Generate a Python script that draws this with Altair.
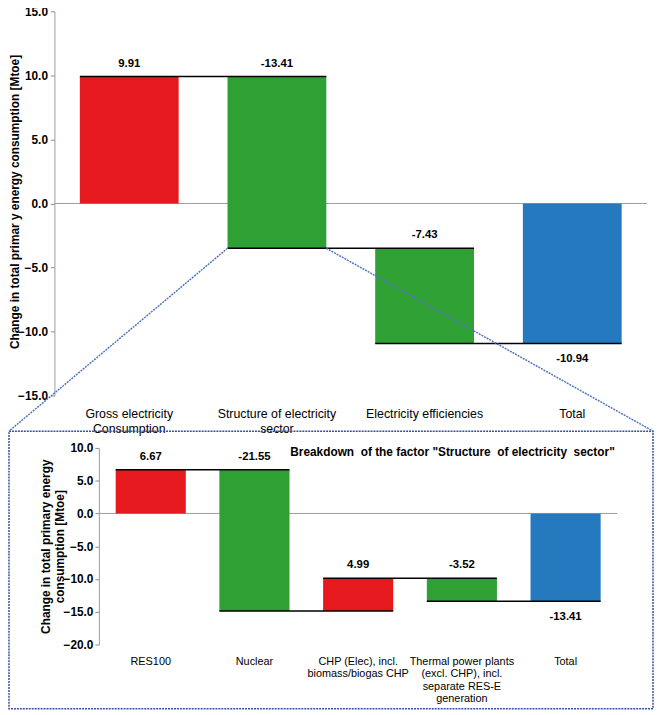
import altair as alt
import pandas as pd

# ---------------- data ----------------
top_categories = [
    "Gross electricity|Consumption",
    "Structure of electricity|sector",
    "Electricity efficiencies",
    "Total",
]
top_values = [9.91, -13.41, -7.43, -10.94]
top_is_total = [False, False, False, True]

bottom_categories = [
    "RES100",
    "Nuclear",
    "CHP (Elec), incl.|biomass/biogas CHP",
    "Thermal power plants|(excl. CHP), incl.|separate RES-E|generation",
    "Total",
]
bottom_values = [6.67, -21.55, 4.99, -3.52, -13.41]
bottom_is_total = [False, False, False, False, True]

top_y_ticks = [15, 10, 5, 0, -5, -10, -15]
bottom_y_ticks = [10, 5, 0, -5, -10, -15, -20]
top_y_domain = [-15, 15]
bottom_y_domain = [-20, 10]

top_y_title = "Change in total primar y energy consumption [Mtoe]"
bottom_y_title = "Change in total primary energy\nconsumption [Mtoe]"
breakdown_title = 'Breakdown \u00a0of the factor "Structure \u00a0of electricity \u00a0sector"'


def waterfall(cats, vals, totals):
    rows = []
    cum = 0.0
    for i, (c, v, t) in enumerate(zip(cats, vals, totals)):
        if t:
            start, end = 0.0, v
        else:
            start, end = cum, round(cum + v, 2)
            cum = end
        kind = "total" if t else ("pos" if v > 0 else "neg")
        rows.append(dict(cat=c, value=v, start=start, end=end, kind=kind,
                         top=max(start, end), bot=min(start, end),
                         label=f"{v:.2f}",
                         next=cats[i + 1] if i + 1 < len(cats) else None,
                         z=0.0))
    return pd.DataFrame(rows)


top_df = waterfall(top_categories, top_values, top_is_total)
bot_df = waterfall(bottom_categories, bottom_values, bottom_is_total)
one = pd.DataFrame({"z": [0.0]})

# ---------------- layout (page px -> svg px) ----------------
OFF = 8
W, H = 654, 707


def px(v):
    return v - OFF


FONT = "Liberation Sans"
RED, GREEN, BLUE = "#E6191F", "#2EA034", "#2479BF"
color_scale = alt.Scale(domain=["pos", "neg", "total"], range=[RED, GREEN, BLUE])

# ---------------- top chart ----------------
top_x = alt.Scale(domain=top_categories, range=[px(56), px(654)],
                  paddingInner=0.331, paddingOuter=0.1655)
top_y = alt.Scale(domain=top_y_domain, range=[px(396), px(7)], nice=False, zero=False)
top_x_axis = alt.Axis(orient="bottom", offset=px(396) - H, domain=False, ticks=False,
                      grid=False, title=None, labelExpr="split(datum.label, '|')",
                      labelFont=FONT, labelFontSize=12.5, labelColor="black",
                      labelPadding=12, labelLineHeight=15, labelAngle=0,
                      labelLimit=300, labelOverlap=False)
top_y_axis = alt.Axis(orient="left", offset=-px(55), values=top_y_ticks, format=".1f",
                      grid=False, title=None, labelFont=FONT, labelFontSize=12,
                      labelFontWeight="bold", labelColor="black", tickSize=4,
                      tickColor="#8c8c8c", domainColor="#9a9a9a", labelPadding=3)


def tx(field="cat:N", **kw):
    return alt.X(field, scale=top_x, axis=top_x_axis, **kw)


def ty(field):
    return alt.Y(field, scale=top_y, axis=top_y_axis)


top_zero = alt.Chart(one).mark_rule(color="#9a9a9a", strokeWidth=1).encode(
    y=ty("z:Q"), x=alt.value(px(55)), x2=alt.value(px(655)))
top_bars = alt.Chart(top_df).mark_bar().encode(
    x=tx(), y=ty("start:Q"), y2="end:Q",
    color=alt.Color("kind:N", scale=color_scale, legend=None))
top_conn = alt.Chart(top_df).transform_filter("datum.next != null").mark_rule(
    color="black", strokeWidth=1.5).encode(
    x=tx(bandPosition=0), x2=alt.X2("next:N", bandPosition=1), y=ty("end:Q"))
top_lbl_above = alt.Chart(top_df).transform_filter("datum.kind != 'total'").mark_text(
    dy=-13, font=FONT, fontSize=11.5, fontWeight="bold", baseline="middle", color="black").encode(
    x=tx(), y=ty("top:Q"), text="label:N")
top_lbl_below = alt.Chart(top_df).transform_filter("datum.kind == 'total'").mark_text(
    dy=16, font=FONT, fontSize=11.5, fontWeight="bold", baseline="middle", color="black").encode(
    x=tx(), y=ty("bot:Q"), text="label:N")

struct_df = top_df[top_df["cat"] == top_categories[1]]
LINK = "#4F75BE"
left_link = alt.Chart(struct_df).mark_rule(color=LINK, strokeDash=[2, 1], strokeWidth=1.5).encode(
    x=tx(bandPosition=0), y=ty("end:Q"), x2=alt.value(1), y2=alt.value(px(432)))
right_link = alt.Chart(struct_df).mark_rule(color=LINK, strokeDash=[2, 1], strokeWidth=1.5).encode(
    x=tx(bandPosition=1), y=ty("end:Q"), x2=alt.value(px(661)), y2=alt.value(px(432)))

top_chart = alt.layer(top_zero, top_bars, top_conn, top_lbl_above, top_lbl_below,
                      left_link, right_link)

# ---------------- bottom chart ----------------
bot_x = alt.Scale(domain=bottom_categories, range=[px(100), px(625)],
                  paddingInner=0.324, paddingOuter=0.162)
bot_y = alt.Scale(domain=bottom_y_domain, range=[px(648), px(449)], nice=False, zero=False)
bot_x_axis = alt.Axis(orient="bottom", offset=px(648) - H, domain=False, ticks=False,
                      grid=False, title=None, labelExpr="split(datum.label, '|')",
                      labelFont=FONT, labelFontSize=11, labelColor="black",
                      labelPadding=11, labelLineHeight=12.7, labelAngle=0,
                      labelLimit=300, labelOverlap=False)
bot_y_axis = alt.Axis(orient="left", offset=-px(100), values=bottom_y_ticks, format=".1f",
                      grid=False, title=None, labelFont=FONT, labelFontSize=12,
                      labelFontWeight="bold", labelColor="black", tickSize=4,
                      tickColor="#8c8c8c", domainColor="#9a9a9a", labelPadding=2)


def bx(field="cat:N", **kw):
    return alt.X(field, scale=bot_x, axis=bot_x_axis, **kw)


def by(field):
    return alt.Y(field, scale=bot_y, axis=bot_y_axis)


bot_zero = alt.Chart(one).mark_rule(color="#9a9a9a", strokeWidth=1).encode(
    y=by("z:Q"), x=alt.value(px(100)), x2=alt.value(px(625)))
bot_bars = alt.Chart(bot_df).mark_bar().encode(
    x=bx(), y=by("start:Q"), y2="end:Q",
    color=alt.Color("kind:N", scale=color_scale, legend=None))
bot_conn = alt.Chart(bot_df).transform_filter("datum.next != null").mark_rule(
    color="black", strokeWidth=1.5).encode(
    x=bx(bandPosition=0), x2=alt.X2("next:N", bandPosition=1), y=by("end:Q"))
bot_lbl_above = alt.Chart(bot_df).transform_filter("datum.kind != 'total'").mark_text(
    dy=-13, font=FONT, fontSize=11.5, fontWeight="bold", baseline="middle", color="black").encode(
    x=bx(), y=by("top:Q"), text="label:N")
bot_lbl_below = alt.Chart(bot_df).transform_filter("datum.kind == 'total'").mark_text(
    dy=16, font=FONT, fontSize=11.5, fontWeight="bold", baseline="middle", color="black").encode(
    x=bx(), y=by("bot:Q"), text="label:N")

bot_chart = alt.layer(bot_zero, bot_bars, bot_conn, bot_lbl_above, bot_lbl_below)

# ---------------- decorations ----------------
box = alt.Chart(one).mark_rect(fill="white", fillOpacity=0, stroke="#34509A",
                               strokeDash=[2, 1], strokeWidth=1.5).encode(
    x=alt.value(1), x2=alt.value(px(661)), y=alt.value(px(432)), y2=alt.value(px(713)))
top_title_mark = alt.Chart(one).mark_text(
    text=top_y_title, angle=270, font=FONT, fontSize=12, fontWeight="bold",
    baseline="middle", align="center", color="black").encode(
    x=alt.value(px(15)), y=alt.value(px(200)))
bot_title_mark = alt.Chart(one).mark_text(
    text=bottom_y_title, lineBreak="\n", lineHeight=14, angle=270, font=FONT, fontSize=12,
    fontWeight="bold", baseline="middle", align="center", color="black").encode(
    x=alt.value(px(47)), y=alt.value(px(549)))
breakdown_mark = alt.Chart(one).mark_text(
    text=breakdown_title, font=FONT, fontSize=12, fontWeight="bold",
    baseline="middle", align="center", color="black").encode(
    x=alt.value(px(458)), y=alt.value(px(453)))

deco = alt.layer(box, top_title_mark, bot_title_mark, breakdown_mark)

chart = alt.layer(deco, top_chart, bot_chart).resolve_scale(
    x="independent", y="independent").properties(
    width=W, height=H, autosize=alt.AutoSizeParams(type="none"), padding=0,
    background="white").configure_view(stroke=None)

chart.save("out.html", embed_options={"renderer": "svg", "actions": False})
